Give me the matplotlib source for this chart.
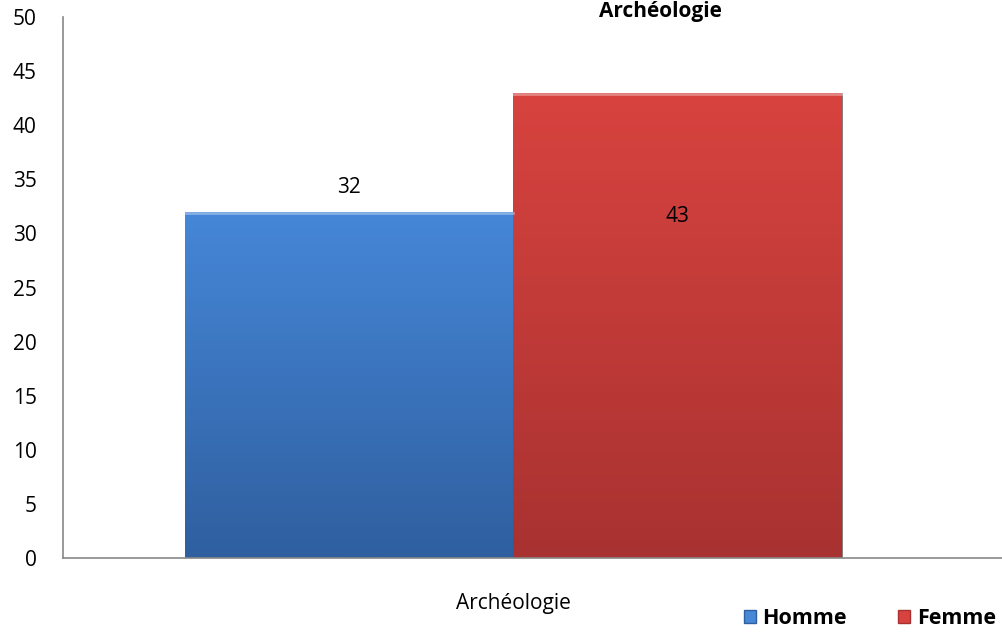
import numpy as np
import matplotlib.pyplot as plt
from matplotlib.patches import Patch

plt.rcParams['font.family'] = ['Open Sans', 'DejaVu Sans']

categorie = 'Archéologie'
series = ['Homme', 'Femme']
valeurs = [32, 43]
couleurs = ['#4687d8', '#d8433f']
couleurs_bas = ['#2f5f9f', '#a83231']
titre = 'Archéologie'

fig = plt.figure(figsize=(10.03, 6.35), dpi=100)
ax = fig.add_axes([63/1003, 1-558/635, 940/1003, (558-17)/635])

pos = [-1, 0]
bars = ax.bar(pos, valeurs, width=1, align='edge', color=couleurs,
              edgecolor='#777777', linewidth=0.6, zorder=2)

# degrade vertical dans chaque barre
for b, c1, c2 in zip(bars, couleurs, couleurs_bas):
    x0, y0 = b.get_x(), b.get_y()
    w, h = b.get_width(), b.get_height()
    top = np.array(plt.matplotlib.colors.to_rgb(c1))
    bot = np.array(plt.matplotlib.colors.to_rgb(c2))
    t = np.linspace(0, 1, 256)[:, None]
    grad = (bot * (1 - t) + top * t)[:, None, :]
    im = ax.imshow(grad, extent=[x0, x0 + w, y0, y0 + h], origin='lower',
                   aspect='auto', zorder=2.5)
    im.set_clip_path(b)
    ax.plot([x0, x0 + w], [h - 0.15, h - 0.15], color='white', alpha=0.35,
            lw=2, zorder=3)

ax.text(-0.5, valeurs[0] + 2.2, str(valeurs[0]), ha='center', va='center',
        fontsize=15)
ax.text(0.5, valeurs[1] - 11.4, str(valeurs[1]), ha='center', va='center',
        fontsize=15)

ax.set_xlim((63-513.5)/328.5, (1003-513.5)/328.5)
ax.set_ylim(0, 50)
ax.set_yticks(np.arange(0, 51, 5))
ax.set_xticks([0])
ax.set_xticklabels([categorie])
ax.tick_params(axis='both', length=0, labelsize=15)
ax.tick_params(axis='y', pad=19)
ax.tick_params(axis='x', pad=25)
for lab in ax.get_yticklabels():
    lab.set_horizontalalignment('right')

for s in ['top', 'right']:
    ax.spines[s].set_visible(False)
ax.spines['left'].set_color('#888888')
ax.spines['bottom'].set_color('#888888')
ax.spines['left'].set_linewidth(1.2)
ax.spines['bottom'].set_linewidth(1.2)

fig.text(660/1003, 1-11/635, titre, ha='center', va='center',
         fontsize=15, fontweight='bold')

handles = [Patch(facecolor=c, edgecolor=c2) for c, c2 in zip(couleurs, couleurs_bas)]
leg = fig.legend(handles, series, loc='center right', ncol=2,
                 bbox_to_anchor=(1.012, 1-619/635), frameon=False,
                 prop={'weight': 'bold', 'size': 15.5}, handlelength=0.55,
                 handleheight=0.55, handletextpad=0.3, columnspacing=2.4)

fig.savefig('out.png', dpi=100)
